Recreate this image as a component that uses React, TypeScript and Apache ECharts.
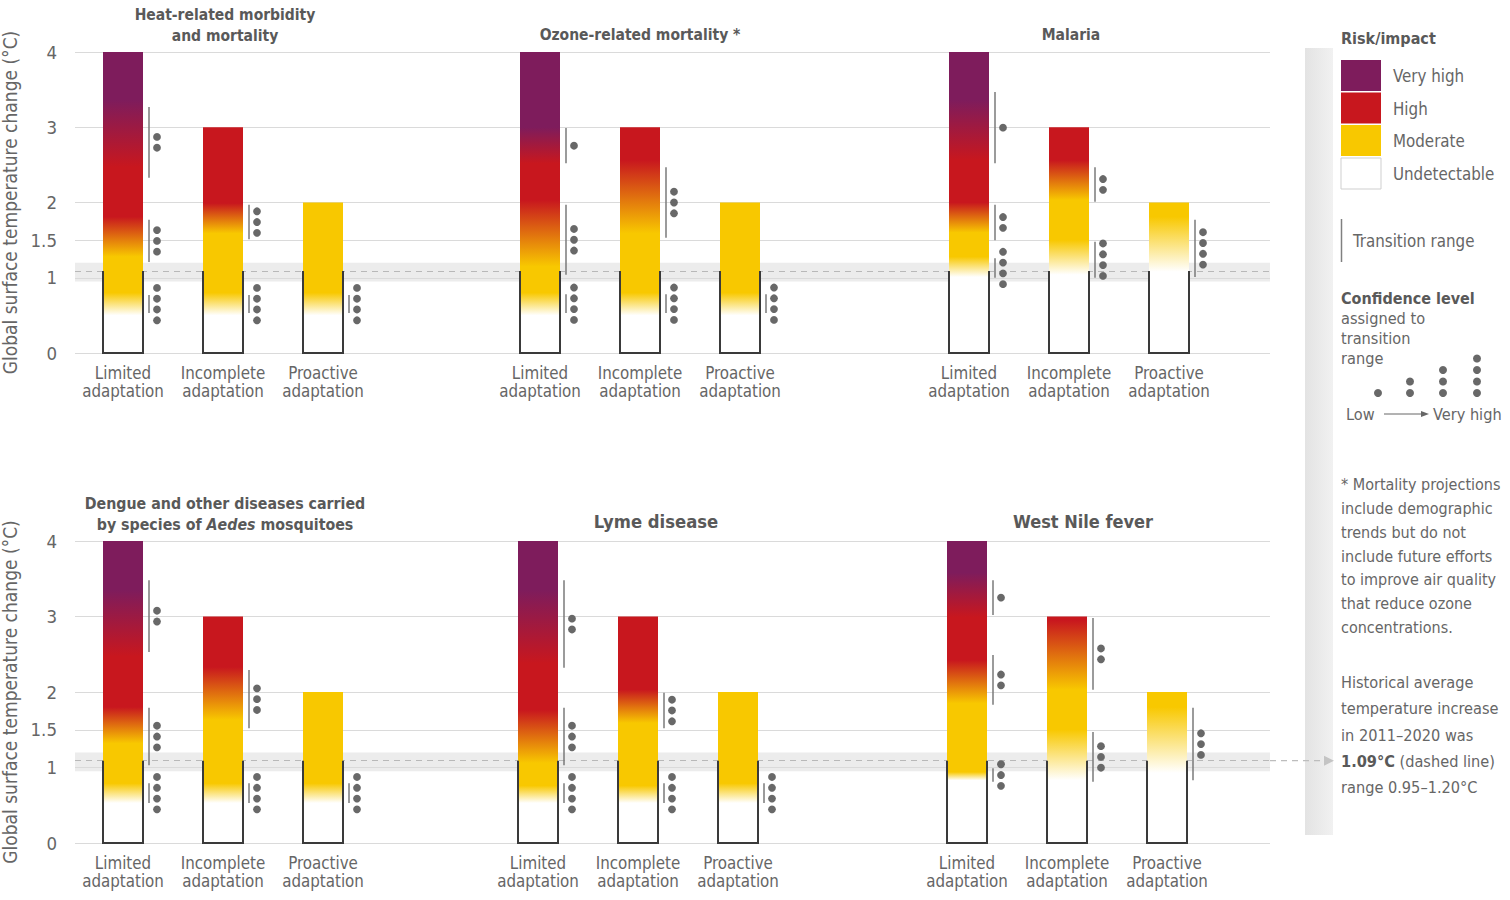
import React, { useEffect, useRef } from 'react';
import * as echarts from 'echarts';

const FONT = "'Liberation Sans Narrow', 'Arial Narrow', 'DejaVu Sans Condensed', 'Liberation Sans', sans-serif";

const categories = ['Limited\nadaptation', 'Incomplete\nadaptation', 'Proactive\nadaptation'];
const barTops = [4, 3, 2];
const yTickValues = [0, 1, 1.5, 2, 3, 4];
const historicalMean = 1.09;
const historicalRange = [0.95, 1.2];
const riskLevels = ['Undetectable', 'Moderate', 'High', 'Very high'];
const riskColors = ['#ffffff', '#F8C800', '#C8171E', '#7E1C5C'];
const confidenceDots = [1, 2, 3, 4];

// colour shifts per bar: [from, to] (°C) where colour passes from level i to level i+1
// transitions per bar: [low, high, confidence dots]
const heatShifts = [
  [[0.5, 0.8], [1.28, 1.81], [2.47, 3.36]],
  [[0.5, 0.8], [1.59, 1.99]],
  [[0.5, 0.8]],
];
const heatTransitions = [
  [[0.53, 0.77, 4], [1.21, 1.77, 3], [2.33, 3.27, 2]],
  [[0.53, 0.77, 4], [1.51, 1.97, 3]],
  [[0.53, 0.77, 4]],
];
const ozoneShifts = [
  [[0.5, 0.8], [1.15, 2.03], [2.52, 3.0]],
  [[0.5, 0.8], [1.59, 2.56]],
  [[0.5, 0.8]],
];
const ozoneTransitions = [
  [[0.53, 0.78, 4], [1.04, 1.97, 3], [2.52, 2.99, 1]],
  [[0.53, 0.78, 4], [1.53, 2.47, 3]],
  [[0.53, 0.78, 4]],
];
const malariaShifts = [
  [[1.01, 1.28], [1.6, 2.0], [2.56, 3.36]],
  [[1.04, 1.5], [2.03, 2.56]],
  [[1.08, 1.81]],
];
const malariaTransitions = [
  [[1.0, 1.26, 4], [1.5, 1.97, 2], [2.52, 3.47, 1]],
  [[1.0, 1.48, 4], [2.01, 2.47, 2]],
  [[1.01, 1.77, 4]],
];
const dengueShifts = [
  [[0.53, 0.79], [1.32, 1.8], [2.47, 3.35]],
  [[0.53, 0.79], [1.63, 2.33]],
  [[0.53, 0.79]],
];
const dengueTransitions = [
  [[0.53, 0.79, 4], [1.03, 1.79, 3], [2.53, 3.48, 2]],
  [[0.53, 0.79, 4], [1.52, 2.29, 3]],
  [[0.53, 0.79, 4]],
];
const lymeShifts = [
  [[0.53, 0.76], [1.06, 1.76], [2.38, 3.35]],
  [[0.53, 0.76], [1.59, 2.03]],
  [[0.53, 0.79]],
];
const lymeTransitions = [
  [[0.53, 0.79, 4], [1.03, 1.79, 3], [2.32, 3.48, 2]],
  [[0.53, 0.79, 4], [1.52, 1.99, 3]],
  [[0.53, 0.79, 4]],
];
const westNileShifts = [
  [[0.83, 0.94], [1.85, 2.42], [2.99, 3.58]],
  [[0.83, 1.5], [2.03, 2.95]],
  [[0.93, 1.8]],
];
const westNileTransitions = [
  [[0.81, 0.99, 3], [1.83, 2.49, 2], [3.02, 3.48, 1]],
  [[0.81, 1.47, 3], [2.03, 2.98, 2]],
  [[0.83, 1.79, 3]],
];

const panelShifts = [heatShifts, ozoneShifts, malariaShifts, dengueShifts, lymeShifts, westNileShifts];
const panelTransitions = [heatTransitions, ozoneTransitions, malariaTransitions, dengueTransitions, lymeTransitions, westNileTransitions];

const footnoteLines = [
  '* Mortality projections',
  'include demographic',
  'trends but do not',
  'include future efforts',
  'to improve air quality',
  'that reduce ozone',
  'concentrations.',
];
const historyLines = [
  'Historical average',
  'temperature increase',
  'in 2011–2020 was',
  '{b|1.09°C} (dashed line)',
  'range 0.95–1.20°C',
];

// layout
const ROW_TOP = [52, 541];
const ROW_H = [301, 302];
const GRID_LEFT = 75;
const GRID_W = 1195;
const PANEL_LEFT = [[73, 490, 919], [73, 488, 917]];
const PANEL_W = 300;
const BAR_HALF = 20;

const TEXT = '#666666';
const TITLE = '#595959';

function makeRenderItem(shifts: number[][][], transitions: number[][][]) {
  return (params: any, api: any) => {
    const idx = api.value(0);
    const top = api.value(1);
    const base = api.coord([idx, 0]);
    const topPt = api.coord([idx, top]);
    const dashY = api.coord([idx, historicalMean])[1];
    const x0 = base[0];
    const yOf = (v: number) => api.coord([idx, v])[1];
    const barShifts = shifts[idx];
    const off = (v: number) => Math.min(1, Math.max(0, (top - v) / top));
    const stops: { offset: number; color: string }[] = [];
    stops.push({ offset: 0, color: riskColors[barShifts.length] });
    barShifts.forEach(([a, b], i) => {
      stops.push({ offset: off(b), color: riskColors[i + 1] });
      stops.push({ offset: off(a), color: riskColors[i] });
    });
    stops.push({ offset: 1, color: riskColors[0] });
    stops.sort((p, q) => p.offset - q.offset);
    const children: any[] = [
      {
        type: 'rect',
        shape: { x: x0 - BAR_HALF, y: topPt[1], width: BAR_HALF * 2, height: base[1] - topPt[1] },
        style: { fill: new echarts.graphic.LinearGradient(0, 0, 0, 1, stops) },
      },
      {
        type: 'polyline',
        shape: {
          points: [
            [x0 - BAR_HALF, dashY],
            [x0 - BAR_HALF, base[1]],
            [x0 + BAR_HALF, base[1]],
            [x0 + BAR_HALF, dashY],
          ],
        },
        style: { stroke: '#3a3a3a', lineWidth: 2, fill: null },
      },
    ];
    transitions[idx].forEach(([lo, hi, n]) => {
      const y1 = yOf(hi);
      const y2 = yOf(lo);
      children.push({
        type: 'line',
        shape: { x1: x0 + BAR_HALF + 6, y1, x2: x0 + BAR_HALF + 6, y2 },
        style: { stroke: '#7a7a7a', lineWidth: 1.5 },
      });
      const mid = (y1 + y2) / 2;
      for (let k = 0; k < n; k++) {
        children.push({
          type: 'circle',
          shape: { cx: x0 + BAR_HALF + 14, cy: mid + (k - (n - 1) / 2) * 10.8, r: 3.9 },
          style: { fill: '#686868' },
        });
      }
    });
    return { type: 'group', children };
  };
}

function txt(x: number, y: number, text: string, opts: any = {}) {
  return {
    type: 'text',
    x,
    y,
    silent: true,
    style: {
      text,
      fontFamily: FONT,
      fontSize: 16.8,
      fill: TEXT,
      align: 'left',
      textAlign: 'left',
      verticalAlign: 'middle',
      textVerticalAlign: 'middle',
      ...opts,
    },
  };
}

function buildGraphic(arrowY: number | null) {
  const g: any[] = [];
  // titles
  const titleStyle = { fontWeight: 'bold', fill: TITLE, align: 'center', textAlign: 'center', fontSize: 15.5 };
  g.push(txt(225, 25, 'Heat-related morbidity\nand mortality', { ...titleStyle, lineHeight: 21 }));
  g.push(txt(640, 35, 'Ozone-related mortality *', titleStyle));
  g.push(txt(1071, 35, 'Malaria', titleStyle));
  g.push(
    txt(225, 514, '{b|Dengue and other diseases carried}\n{b|by species of }{i|Aedes}{b| mosquitoes}', {
      ...titleStyle,
      rich: {
        b: { fontFamily: FONT, fontWeight: 'bold', fontSize: 15.8, fill: TITLE, lineHeight: 21 },
        i: { fontFamily: FONT, fontWeight: 'bold', fontStyle: 'italic', fontSize: 15.8, fill: TITLE, lineHeight: 21 },
      },
    })
  );
  g.push(txt(656, 521, 'Lyme disease', { ...titleStyle, fontSize: 18.3 }));
  g.push(txt(1083, 521, 'West Nile fever', { ...titleStyle, fontSize: 18 }));

  // side shaded strip
  g.push({
    type: 'rect',
    silent: true,
    z: -10,
    shape: { x: 1305, y: 48, width: 28, height: 787 },
    style: {
      fill: new echarts.graphic.LinearGradient(0, 0, 1, 0, [
        { offset: 0, color: '#e3e3e3' },
        { offset: 1, color: '#f1f1f1' },
      ]),
    },
  });

  // legend: risk
  g.push(txt(1341, 38, 'Risk/impact', { fontWeight: 'bold', fill: TITLE, fontSize: 16 }));
  const swY = [60, 92.5, 125, 158];
  const order = [3, 2, 1, 0];
  order.forEach((lvl, i) => {
    g.push({
      type: 'rect',
      silent: true,
      shape: { x: 1341, y: swY[i], width: 40, height: 31 },
      style: { fill: riskColors[lvl], stroke: lvl === 0 ? '#cfcfcf' : null, lineWidth: 1 },
    });
    g.push(txt(1393, swY[i] + 16, riskLevels[lvl]));
  });
  // transition range
  g.push({
    type: 'line',
    silent: true,
    shape: { x1: 1341.5, y1: 219, x2: 1341.5, y2: 262 },
    style: { stroke: '#808080', lineWidth: 1.5 },
  });
  g.push(txt(1353, 241, 'Transition range'));
  // confidence
  g.push(txt(1341, 298, 'Confidence level', { fontWeight: 'bold', fill: TITLE, fontSize: 16 }));
  g.push(txt(1341, 338, 'assigned to\ntransition\nrange', { fontSize: 16.2, lineHeight: 20 }));
  const dotX = [1378, 1410, 1443, 1477];
  confidenceDots.forEach((n, i) => {
    for (let k = 0; k < n; k++) {
      g.push({
        type: 'circle',
        silent: true,
        shape: { cx: dotX[i], cy: 393 - k * 11.5, r: 4 },
        style: { fill: '#686868' },
      });
    }
  });
  g.push(txt(1346, 414, 'Low', { fontSize: 16.2 }));
  g.push({
    type: 'line',
    silent: true,
    shape: { x1: 1384, y1: 414, x2: 1424, y2: 414 },
    style: { stroke: '#666', lineWidth: 1 },
  });
  g.push({
    type: 'polygon',
    silent: true,
    shape: { points: [[1429, 414], [1421, 411], [1421, 417]] },
    style: { fill: '#666' },
  });
  g.push(txt(1433, 414, 'Very high', { fontSize: 16.2 }));

  // footnotes
  g.push(txt(1341, 556, footnoteLines.join('\n'), { fontSize: 16, lineHeight: 23.7 }));
  g.push(
    txt(1341, 735, historyLines.join('\n'), {
      fontSize: 16.2,
      lineHeight: 26.2,
      rich: {
        b: { fontFamily: FONT, fontWeight: 'bold', fontSize: 16.2, fill: TITLE, lineHeight: 26.2 },
      },
    })
  );

  if (arrowY !== null) {
    g.push({
      type: 'line',
      silent: true,
      shape: { x1: GRID_LEFT + GRID_W, y1: arrowY, x2: 1324, y2: arrowY },
      style: { stroke: '#bdbdbd', lineWidth: 1.2, lineDash: [6, 5] },
    });
    g.push({
      type: 'polygon',
      silent: true,
      shape: { points: [[1334, arrowY], [1324, arrowY - 5], [1324, arrowY + 5]] },
      style: { fill: '#c4c4c4' },
    });
  }
  return g;
}

function buildOption() {
  const grid: any[] = [];
  const xAxis: any[] = [];
  const yAxis: any[] = [];
  const series: any[] = [];

  // row background grids
  [0, 1].forEach((r) => {
    grid.push({ left: GRID_LEFT, top: ROW_TOP[r], width: GRID_W, height: ROW_H[r], outerBoundsMode: 'none', containLabel: false });
    xAxis.push({ gridIndex: r, type: 'value', min: 0, max: 1, show: false });
    yAxis.push({
      gridIndex: r,
      type: 'value',
      min: 0,
      max: 4,
      interval: 0.5,
      axisLine: { show: false },
      axisTick: { show: false },
      splitLine: { show: false },
      axisLabel: {
        margin: 18,
        fontFamily: FONT,
        fontSize: 18.5,
        color: TEXT,
        formatter: (v: number) => (yTickValues.includes(v) ? String(v) : ''),
      },
      name: 'Global surface temperature change (°C)',
      nameLocation: 'middle',
      nameGap: 46,
      nameRotate: 90,
      nameTextStyle: { fontFamily: FONT, fontSize: 19, color: TEXT },
    });
    series.push({
      type: 'line',
      xAxisIndex: r,
      yAxisIndex: r,
      data: [],
      z: 1,
      silent: true,
      markArea: {
        silent: true,
        itemStyle: { color: '#ececec' },
        data: [[{ yAxis: historicalRange[0] }, { yAxis: historicalRange[1] }]],
      },
    });
    series.push({
      type: 'line',
      xAxisIndex: r,
      yAxisIndex: r,
      data: [],
      z: 2,
      silent: true,
      markLine: {
        silent: true,
        symbol: ['none', 'none'],
        label: { show: false },
        data: [
          ...yTickValues.map((v) => ({ yAxis: v, lineStyle: { color: '#dadada', width: 1, type: 'solid' } })),
          { yAxis: historicalMean, lineStyle: { color: '#b8b8b8', width: 1.2, type: [6, 5] } },
        ],
      },
    });
  });

  // panel grids
  for (let p = 0; p < 6; p++) {
    const r = p < 3 ? 0 : 1;
    const c = p % 3;
    const gi = 2 + p;
    grid.push({ left: PANEL_LEFT[r][c], top: ROW_TOP[r], width: PANEL_W, height: ROW_H[r], outerBoundsMode: 'none', containLabel: false });
    xAxis.push({
      gridIndex: gi,
      type: 'category',
      data: categories,
      axisLine: { show: false },
      axisTick: { show: false },
      splitLine: { show: false },
      axisLabel: {
        interval: 0,
        margin: 11,
        fontFamily: FONT,
        fontSize: 16.8,
        lineHeight: 18,
        color: TEXT,
      },
    });
    yAxis.push({ gridIndex: gi, type: 'value', min: 0, max: 4, show: false, splitLine: { show: false } });
    series.push({
      type: 'custom',
      xAxisIndex: gi,
      yAxisIndex: gi,
      z: 5,
      silent: true,
      renderItem: makeRenderItem(panelShifts[p], panelTransitions[p]),
      encode: { x: 0, y: 1 },
      data: barTops.map((t, i) => [i, t]),
    });
  }

  return {
    animation: false,
    backgroundColor: '#ffffff',
    grid,
    xAxis,
    yAxis,
    series,
    graphic: buildGraphic(null),
  };
}

export default function App() {
  const ref = useRef<HTMLDivElement>(null);
  useEffect(() => {
    if (!ref.current) return;
    const chart = echarts.init(ref.current, null, { renderer: 'svg' });
    chart.setOption(buildOption());
    const arrowY = chart.convertToPixel({ yAxisIndex: 1 } as any, historicalMean) as any;
    const y = typeof arrowY === 'number' ? arrowY : 843 - historicalMean * 75.5;
    chart.setOption({ graphic: buildGraphic(y) });
    return () => chart.dispose();
  }, []);
  return (
    <div
      ref={ref}
      style={{ position: 'absolute', left: 0, top: 0, width: 1510, height: 900, background: '#fff' }}
    />
  );
}
